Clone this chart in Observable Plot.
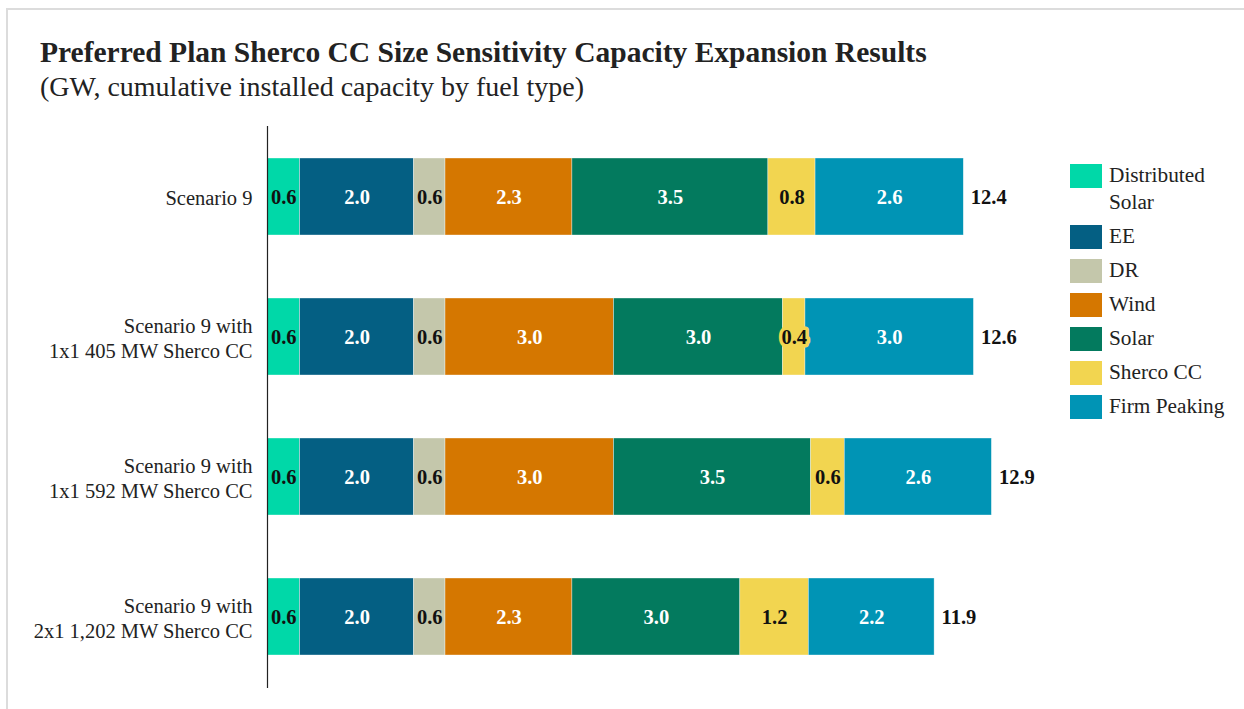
<!DOCTYPE html>
<html>
<head>
<meta charset="utf-8">
<script src="https://cdn.jsdelivr.net/npm/d3@7"></script>
<script src="https://cdn.jsdelivr.net/npm/@observablehq/plot@0.6"></script>
<style>
  html, body { margin: 0; padding: 0; background: #fff; }
  #wrap { position: relative; width: 1244px; height: 709px; overflow: hidden; font-family: "Liberation Serif", "DejaVu Serif", serif; color: #222; }
  #frame { position: absolute; left: 6px; top: 8px; width: 1300px; height: 800px; border-top: 2px solid #dcdcdc; border-left: 2px solid #dcdcdc; }
  #title { position: absolute; left: 40px; top: 38px; font-size: 29.5px; line-height: 29.5px; font-weight: bold; white-space: nowrap; }
  #subtitle { position: absolute; left: 40px; top: 73px; font-size: 28px; line-height: 28px; white-space: nowrap; }
  #chart { position: absolute; left: 0; top: 126px; }
  #legend { position: absolute; left: 1070px; top: 162px; font-size: 21.3px; }
  .item { display: flex; align-items: flex-start; margin-bottom: 7px; }
  .sw { width: 32px; height: 24px; margin-top: 2px; margin-right: 7px; flex: none; }
  .lab { width: 130px; line-height: 27px; }
</style>
</head>
<body>
<div id="wrap">
  <div id="frame"></div>
  <div id="title"></div>
  <div id="subtitle"></div>
  <div id="chart"></div>
  <div id="legend"></div>
</div>
<script>
const titleText = "Preferred Plan Sherco CC Size Sensitivity Capacity Expansion Results";
const subtitleText = "(GW, cumulative installed capacity by fuel type)";

const scenarios = [
  "Scenario 9",
  "Scenario 9 with\n1x1 405 MW Sherco CC",
  "Scenario 9 with\n1x1 592 MW Sherco CC",
  "Scenario 9 with\n2x1 1,202 MW Sherco CC"
];
const types = ["Distributed Solar", "EE", "DR", "Wind", "Solar", "Sherco CC", "Firm Peaking"];
const colors = ["#00d8a8", "#045f83", "#c4c7ab", "#d57700", "#037a5e", "#f2d550", "#0094b5"];

// values per type, one entry per scenario (GW)
const distributedSolar = [0.58, 0.58, 0.58, 0.58];
const ee             = [2.03, 2.03, 2.03, 2.03];
const dr             = [0.56, 0.56, 0.56, 0.56];
const wind           = [2.26, 3.00, 3.00, 2.26];
const solar          = [3.49, 3.01, 3.51, 2.99];
const shercoCC       = [0.84, 0.40, 0.60, 1.22];
const firmPeaking    = [2.64, 3.00, 2.62, 2.24];

const series = [distributedSolar, ee, dr, wind, solar, shercoCC, firmPeaking];
const darkTypes = new Set(["EE", "Wind", "Solar", "Firm Peaking"]);

const data = [];
scenarios.forEach((s, i) => {
  types.forEach((t, j) => data.push({scenario: s, type: t, value: series[j][i]}));
});
const totals = scenarios.map((s, i) => ({scenario: s, total: d3.sum(series, a => a[i])}));

document.getElementById("title").textContent = titleText;
document.getElementById("subtitle").textContent = subtitleText;

const fmt = v => v.toFixed(1);
const font = "Liberation Serif, DejaVu Serif, serif";
const fs = 20.5;

const chart = Plot.plot({
  width: 1060,
  height: 562,
  marginLeft: 267,
  marginRight: 63,
  marginTop: 0,
  marginBottom: 0,
  style: {fontFamily: font, color: "#222", background: "transparent", overflow: "visible"},
  x: {domain: [0, 13], axis: null},
  y: {domain: scenarios, paddingInner: 0.4475, paddingOuter: 0.224, label: null},
  color: {domain: types, range: colors},
  marks: [
    Plot.barX(data, Plot.stackX({x: "value", y: "scenario", fill: "type", stroke: "#ffffff", strokeOpacity: 0.6, strokeWidth: 0.6})),
    Plot.text(data, Plot.stackX({x: "value", y: "scenario",
      text: d => darkTypes.has(d.type) ? fmt(d.value) : "",
      fill: "white", fontWeight: "bold", fontSize: fs})),
    Plot.text(data, Plot.stackX({x: "value", y: "scenario",
      text: d => (!darkTypes.has(d.type) && d.type !== "Sherco CC") ? fmt(d.value) : "",
      fill: "#111", fontWeight: "bold", fontSize: fs})),
    Plot.text(data, Plot.stackX({x: "value", y: "scenario",
      text: d => d.type === "Sherco CC" ? fmt(d.value) : "",
      fill: "#111", stroke: colors[5], strokeWidth: 7, strokeLinejoin: "round",
      fontWeight: "bold", fontSize: fs})),
    Plot.text(totals, {x: "total", y: "scenario", text: d => fmt(d.total), dx: 7, textAnchor: "start",
      fill: "#111", fontWeight: "bold", fontSize: fs}),
    Plot.ruleX([0], {stroke: "#222", strokeWidth: 1.2}),
    Plot.axisY({tickSize: 0, tickPadding: 15, fontSize: 20.5, lineHeight: 1.22, fill: "#222", label: null})
  ]
});
document.getElementById("chart").appendChild(chart);

const legend = document.getElementById("legend");
types.forEach((t, j) => {
  const item = document.createElement("div");
  item.className = "item";
  const sw = document.createElement("div");
  sw.className = "sw";
  sw.style.background = colors[j];
  const lab = document.createElement("div");
  lab.className = "lab";
  lab.textContent = t;
  item.appendChild(sw);
  item.appendChild(lab);
  legend.appendChild(item);
});
</script>
</body>
</html>
